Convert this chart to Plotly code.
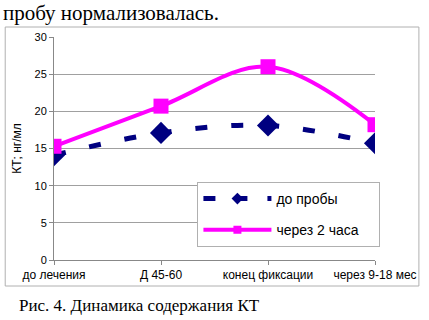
import plotly.graph_objects as go

categories = ["до лечения", "Д 45-60", "конец фиксации", "через 9-18 мес"]
before_test = [14.1, 17.1, 18.1, 15.7]
after_2h = [15.3, 20.7, 26.0, 18.2]
y_ticks = [0, 5, 10, 15, 20, 25, 30]
series_names = ["до пробы", "через 2 часа"]

blue_line = dict(color="#000080", width=5, dash="12px,24px", shape="spline", smoothing=1.0)
pink_line = dict(color="#FF00FF", width=4, shape="spline", smoothing=1.0)

fig = go.Figure()
fig.add_trace(go.Scatter(
    x=categories, y=before_test, name=series_names[0], mode="lines+markers", showlegend=False,
    line=blue_line, marker=dict(symbol="diamond", size=17, color="#000080"),
))
fig.add_trace(go.Scatter(
    x=categories, y=after_2h, name=series_names[1], mode="lines+markers", showlegend=False,
    line=pink_line, marker=dict(symbol="square", size=15, color="#FF00FF"),
))
# legend entries (smaller legend symbols, as in the reference)
pad = "\u00a0" * 4
fig.add_trace(go.Scatter(
    x=[None], y=[None], name=series_names[0] + pad, mode="lines+markers", legendgroup="a",
    line=dict(color="#000080", width=5, dash="12px,20px"),
    marker=dict(symbol="diamond", size=9, color="#000080"),
))
fig.add_trace(go.Scatter(
    x=[None], y=[None], name=series_names[1] + pad, mode="lines+markers", legendgroup="b",
    line=dict(color="#FF00FF", width=4),
    marker=dict(symbol="square", size=8, color="#FF00FF"),
))

fig.update_layout(
    width=429, height=320,
    margin=dict(l=54, r=46, t=37, b=60),
    paper_bgcolor="white", plot_bgcolor="white",
    font=dict(family="Liberation Sans, Arial, sans-serif", size=11, color="black"),
    showlegend=True,
    legend=dict(
        x=(201-54)/329, y=(260-182)/223, xref="paper", yref="paper",
        xanchor="left", yanchor="top",
        bordercolor="#b0b0b0", borderwidth=1, bgcolor="white",
        font=dict(size=14), itemwidth=68, tracegroupgap=10,
    ),
    xaxis=dict(
        type="category", range=[0, 3], showgrid=False,
        showline=True, linecolor="#888888", linewidth=1,
        ticks="outside", ticklen=4, tickcolor="#888888",
        tickfont=dict(size=12), fixedrange=True,
    ),
    yaxis=dict(
        range=[0, 30], tickvals=y_ticks, showgrid=True, gridcolor="#a0a0a0", gridwidth=1,
        showline=True, linecolor="#888888", linewidth=1,
        ticks="outside", ticklen=4, tickcolor="#888888",
        tickfont=dict(size=11), zeroline=False, fixedrange=True,
        title=dict(text="КТ; нг/мл", font=dict(size=12), standoff=10),
    ),
)

# chart border box
fig.add_shape(type="rect", xref="paper", yref="paper",
              x0=(4-54)/329, x1=(428-54)/329,
              y0=(260-286)/223, y1=(260-27)/223,
              line=dict(color="#b0b0b0", width=1), layer="below")

fig.add_annotation(text="пробу нормализовалась.", xref="paper", yref="paper",
                   x=(0-54)/329, y=(260+1)/223, xanchor="left", yanchor="top",
                   showarrow=False, font=dict(family="Liberation Serif, Times New Roman, serif", size=21))
fig.add_annotation(text="Рис. 4. Динамика содержания КТ", xref="paper", yref="paper",
                   x=(16-54)/329, y=(260-294)/223, xanchor="left", yanchor="top",
                   showarrow=False, font=dict(family="Liberation Serif, Times New Roman, serif", size=17))

fig.write_html("out.html", config={"displayModeBar": False},
               post_script="document.body.style.margin='0';document.body.style.padding='0';")
